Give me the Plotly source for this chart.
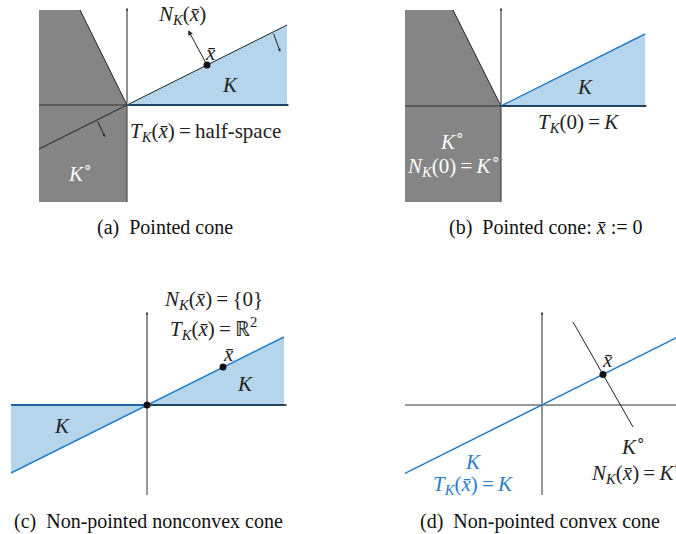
import plotly.graph_objects as go

W, H = 676, 534
PX = 40.0  # pixels per unit

# --- geometry of each panel (units, origin of the cone = (0,0)) ---
# panel (a)
a_gray_x = [-2.2, -1.175, 0, 0, -2.2]
a_gray_y = [2.375, 2.375, 0, -2.425, -2.425]
a_K_x = [0, 4.0, 4.0]
a_K_y = [0, 2.0, 0]
a_line_x = [-2.2, 4.0]
a_line_y = [-1.1, 2.0]
a_xbar = (2.0, 1.0)
a_normal_tip = (1.53, 1.87)
a_small_arrows = [((3.65, 1.825), (3.83, 1.33)), ((-0.75, -0.375), (-0.55, -0.8))]
a_hax = (-2.2, 4.05)
a_vax = (-2.425, 2.425)

# panel (b)
b_gray_x = [-2.4, -1.2, 0, 0, -2.4]
b_gray_y = [2.4, 2.4, 0, -2.4, -2.4]
b_K_x = [0, 3.6, 3.6]
b_K_y = [0, 1.8, 0]
b_hax = (-2.4, 3.65)
b_vax = (-2.4, 2.45)

# panel (c)
c_Kr_x = [0, 3.425, 3.425]
c_Kr_y = [0, 1.7, 0]
c_Kl_x = [0, -3.4, -3.4]
c_Kl_y = [0, -1.7, 0]
c_xbar = (1.9, 0.95)
c_hax = (-3.4, 3.5)
c_vax = (-2.25, 2.325)

# panel (d)
d_blue_x = [-3.425, 3.35]
d_blue_y = [-1.71, 1.675]
d_polar_x = [0.775, 2.275]
d_polar_y = [2.075, -0.55]
d_xbar = (1.525, 0.765)
d_hax = (-3.425, 3.4)
d_vax = (-2.25, 2.325)

GRAY = '#858585'
BFILL = '#b4d5ec'
BLINE = '#2a7fc8'
BDARK = '#1f66a6'
SERIF = 'Liberation Serif'
XB = '<i>x\u0304</i>'
FS = 21

# panels: name, (x0, x1, y0, y1) pixel box, origin pixel
panels = {
    'a': ((0, 338, 0, 250), (127, 105)),
    'b': ((338, 676, 0, 250), (501, 106)),
    'c': ((0, 338, 250, 534), (147, 405)),
    'd': ((338, 676, 250, 534), (542, 405)),
}

fig = go.Figure()
layout = dict(width=W, height=H, margin=dict(l=0, r=0, t=0, b=0),
              paper_bgcolor='white', plot_bgcolor='white', showlegend=False,
              font=dict(family=SERIF))
ax_ids = {}
annots = []
for i, (name, (box, org)) in enumerate(panels.items()):
    x0, x1, y0, y1 = box
    ox, oy = org
    n = '' if i == 0 else str(i + 1)
    ax_ids[name] = ('x' + n, 'y' + n)
    layout['xaxis' + n] = dict(domain=[x0 / W, x1 / W], range=[(x0 - ox) / PX, (x1 - ox) / PX],
                               visible=False, anchor='y' + n, fixedrange=True)
    layout['yaxis' + n] = dict(domain=[1 - y1 / H, 1 - y0 / H], range=[(oy - y1) / PX, (oy - y0) / PX],
                               visible=False, anchor='x' + n, fixedrange=True)
fig.update_layout(**layout)


def poly(p, xs, ys, fill):
    xa, ya = ax_ids[p]
    fig.add_trace(go.Scatter(x=xs + [xs[0]], y=ys + [ys[0]], xaxis=xa, yaxis=ya, mode='lines',
                             fill='toself', fillcolor=fill, line=dict(width=0), hoverinfo='skip'))


def seg(p, xs, ys, color='#222', width=1):
    xa, ya = ax_ids[p]
    fig.add_trace(go.Scatter(x=xs, y=ys, xaxis=xa, yaxis=ya, mode='lines',
                             line=dict(color=color, width=width), hoverinfo='skip'))


def dot(p, pt):
    xa, ya = ax_ids[p]
    fig.add_trace(go.Scatter(x=[pt[0]], y=[pt[1]], xaxis=xa, yaxis=ya, mode='markers',
                             marker=dict(color='#111', size=7), hoverinfo='skip'))


def arrow(p, tail, tip, size=0.6, width=1, head=2):
    xa, ya = ax_ids[p]
    annots.append(dict(x=tip[0], y=tip[1], ax=tail[0], ay=tail[1], xref=xa, yref=ya,
                       axref=xa, ayref=ya, text='', showarrow=True, arrowhead=head,
                       arrowsize=size, arrowwidth=width, arrowcolor='#222',
                       font=dict(size=10)))


def label(p, pos, text, color='#222', size=FS):
    xa, ya = ax_ids[p]
    annots.append(dict(x=pos[0], y=pos[1], xref=xa, yref=ya, text=text, showarrow=False,
                       xanchor='center', yanchor='middle',
                       font=dict(family=SERIF, size=size, color=color)))


def axes(p, hax, vax, right_arrow=True):
    seg(p, [hax[0], 0], [0, 0], '#333')
    if right_arrow:
        arrow(p, (0, 0), (hax[1], 0), size=0.5)
    else:
        seg(p, [0, hax[1]], [0, 0], '#333')
    seg(p, [0, 0], [vax[0], 0], '#333')
    arrow(p, (0, 0), (0, vax[1]), size=0.5)


# (a)
poly('a', a_gray_x, a_gray_y, GRAY)
poly('a', a_K_x, a_K_y, BFILL)
seg('a', [a_gray_x[1], 0], [a_gray_y[1], 0], '#222')
axes('a', a_hax, a_vax)
seg('a', a_line_x, a_line_y, '#222')
seg('a', [0, a_K_x[1]], [0, 0], BDARK, 2)
arrow('a', a_xbar, a_normal_tip, size=1.0, head=2)
for tl, tp in a_small_arrows:
    arrow('a', tl, tp, size=0.6)
dot('a', a_xbar)
label('a', (1.375, 2.25), '<i>N</i><sub><i>K</i></sub>(' + XB + ')')
label('a', (2.075, 1.3), XB)
label('a', (2.575, 0.5), '<i>K</i>')
label('a', (1.97, -0.675), '<i>T</i><sub><i>K</i></sub>(' + XB + ')\u2009=\u2009half-space')
label('a', (-1.175, -1.675), '<i>K</i><sup>\u2218</sup>', color='white')

# (b)
poly('b', b_gray_x, b_gray_y, GRAY)
poly('b', b_K_x, b_K_y, BFILL)
seg('b', [b_gray_x[1], 0], [b_gray_y[1], 0], '#222')
axes('b', b_hax, b_vax)
seg('b', [0, b_K_x[1]], [0, b_K_y[1]], BLINE, 1.5)
seg('b', [0, b_K_x[1]], [0, 0], BDARK, 2)
label('b', (2.1, 0.475), '<i>K</i>')
label('b', (1.925, -0.425), '<i>T</i><sub><i>K</i></sub>(0)\u2009=\u2009<i>K</i>')
label('b', (-1.225, -0.85), '<i>K</i><sup>\u2218</sup>', color='white')
label('b', (-1.2, -1.475), '<i>N</i><sub><i>K</i></sub>(0)\u2009=\u2009<i>K</i><sup>\u2218</sup>', color='white')

# (c)
poly('c', c_Kr_x, c_Kr_y, BFILL)
poly('c', c_Kl_x, c_Kl_y, BFILL)
axes('c', c_hax, c_vax)
seg('c', [c_Kl_x[1], c_Kr_x[1]], [c_Kl_y[1], c_Kr_y[1]], BLINE, 1.5)
seg('c', [c_Kl_x[2], c_Kr_x[2]], [0, 0], BDARK, 2)
dot('c', (0, 0))
dot('c', c_xbar)
label('c', (2.025, 1.275), XB)
label('c', (2.45, 0.525), '<i>K</i>')
label('c', (-2.125, -0.525), '<i>K</i>')
label('c', (1.65, 2.625), '<i>N</i><sub><i>K</i></sub>(' + XB + ')\u2009=\u2009{0}')
label('c', (1.65, 1.925), '<i>T</i><sub><i>K</i></sub>(' + XB + ')\u2009=\u2009\u211d<sup>2</sup>')

# (d)
axes('d', d_hax, d_vax, right_arrow=False)
seg('d', d_blue_x, d_blue_y, BLINE, 1.5)
seg('d', d_polar_x, d_polar_y, '#222')
dot('d', d_xbar)
label('d', (1.625, 1.125), XB)
label('d', (2.275, -1.0), '<i>K</i><sup>\u2218</sup>')
label('d', (2.35, -1.675), '<i>N</i><sub><i>K</i></sub>(' + XB + ')\u2009=\u2009<i>K</i><sup>\u2218</sup>')
label('d', (-1.725, -1.425), '<i>K</i>', color=BLINE)
label('d', (-1.725, -2.0), '<i>T</i><sub><i>K</i></sub>(' + XB + ')\u2009=\u2009<i>K</i>', color=BLINE)

# captions
captions = [('(a)\u2002Pointed cone', 165, 228),
            ('(b)\u2002Pointed cone: ' + XB + ' := 0', 545, 228),
            ('(c)\u2002Non-pointed nonconvex cone', 148, 521),
            ('(d)\u2002Non-pointed convex cone', 540, 521)]
for txt, cx, cy in captions:
    annots.append(dict(x=cx / W, y=1 - cy / H, xref='paper', yref='paper', text=txt,
                       showarrow=False, xanchor='center', yanchor='middle',
                       font=dict(family=SERIF, size=20, color='#111')))

fig.update_layout(annotations=annots)
fig.write_html('out.html', config={'displayModeBar': False},
               post_script="document.body.style.margin='0';document.body.style.overflow='hidden';")
